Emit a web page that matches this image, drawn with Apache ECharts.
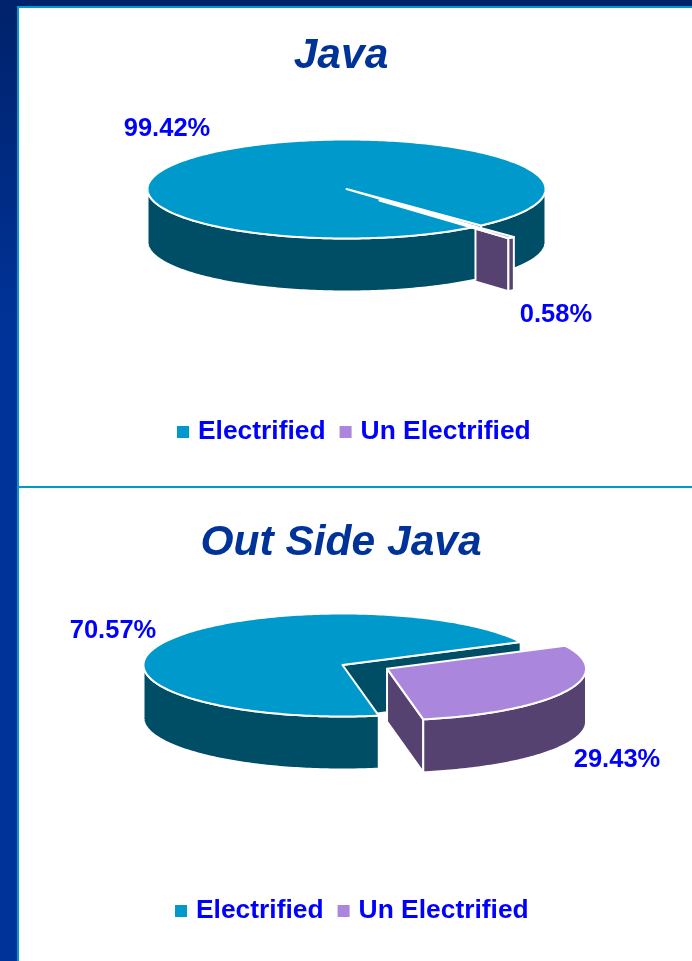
<!DOCTYPE html>
<html>
<head>
<meta charset="utf-8">
<style>html,body{margin:0;padding:0;background:#fff}#c{width:692px;height:961px}</style>
<script src="https://cdn.jsdelivr.net/npm/echarts@6/dist/echarts.min.js"></script>
</head>
<body>
<div id="c"></div>
<script>
var categories = ['Electrified', 'Un Electrified'];
var chartTitles = ['Java', 'Out Side Java'];
var javaValues = [99.42, 0.58];
var outsideValues = [70.57, 29.43];
var javaLabels = ['99.42%', '0.58%'];
var outsideLabels = ['70.57%', '29.43%'];

var FONT = '"Liberation Sans", Arial, sans-serif';
var TOP_COLORS = ['#0099CC', '#AA86DD'];
var WALL_COLORS = ['#004D66', '#554270'];

var pies = [
  { values: javaValues, labels: javaLabels, cx: 346.5, cy: 189, rx: 199, ry: 49.5, depth: 53, start: 49.6,
    explodeX: 0.25, explodeY: 0.31, labelPos: [[167, 129], [556, 315]] },
  { values: outsideValues, labels: outsideLabels, cx: 342.5, cy: 665, rx: 199, ry: 51.5, depth: 53, start: 79.5,
    explodeX: 0.25, explodeY: 0.16, labelPos: [[113, 631], [617, 760]] }
];

function rad(d) { return d * Math.PI / 180; }

function rimPoint(p, c, a, dz) {
  return [c[0] + p.rx * Math.cos(rad(a)), c[1] + p.ry * Math.sin(rad(a)) + dz];
}
function arc(p, c, a0, a1, dz) {
  var pts = [], n = Math.max(2, Math.ceil(Math.abs(a1 - a0)));
  for (var i = 0; i <= n; i++) pts.push(rimPoint(p, c, a0 + (a1 - a0) * i / n, dz));
  return pts;
}
function poly(points, fill, z2) {
  return { type: 'polygon', z2: z2, silent: true, shape: { points: points },
           style: { fill: fill, stroke: '#fff', lineWidth: 2, lineJoin: 'round' } };
}
function wall(p, c, a0, a1, fill, z2) {
  return poly(arc(p, c, a0, a1, 0).concat(arc(p, c, a1, a0, p.depth)), fill, z2);
}
function cutWall(p, c, a, fill, z2) {
  var r = rimPoint(p, c, a, 0);
  return poly([c, r, [r[0], r[1] + p.depth], [c[0], c[1] + p.depth]], fill, z2);
}

function sliceChildren(p, idx, value) {
  var total = p.values[0] + p.values[1];
  var sweep = value / total * 360;
  var s = idx === 0 ? p.start : p.start + p.values[0] / total * 360;
  var e = s + sweep;
  var mid = (s + e) / 2;
  var c = [p.cx, p.cy];
  if (idx === 1) {
    c = [p.cx + p.rx * p.explodeX * Math.cos(rad(mid)), p.cy + p.ry * p.explodeY * Math.sin(rad(mid))];
  }
  var out = [];
  var topFill = TOP_COLORS[idx], wallFill = WALL_COLORS[idx];
  // the visible (front) half of the rim lies between 0 and 180 degrees, and again from 360 to 540
  [[0, 180], [360, 540]].forEach(function (h) {
    var a0 = Math.max(s, h[0]), a1 = Math.min(e, h[1]);
    if (a1 <= a0) return;
    var z = idx === 1 ? 4 : (a1 === e ? 1 : 5);
    out.push(wall(p, c, a0, a1, wallFill, z));
  });
  out.push(cutWall(p, c, e, wallFill, idx === 1 ? 3 : 2));
  var topPts = [c].concat(arc(p, c, s, e, 0));
  out.push(poly(topPts, topFill, idx === 1 ? 7 : 6));
  out.push({ type: 'text', z2: 10, silent: true,
    style: { x: p.labelPos[idx][0], y: p.labelPos[idx][1], text: p.labels[idx], fill: '#0000FF',
             font: 'bold 25.5px ' + FONT, align: 'center', verticalAlign: 'middle' } });
  return out;
}

var series = [];
pies.forEach(function (p) {
  categories.forEach(function (name, idx) {
    series.push({
      type: 'custom', name: name, coordinateSystem: 'none', silent: true,
      itemStyle: { color: TOP_COLORS[idx] },
      data: [[p.values[idx]]],
      renderItem: function (params, api) {
        return { type: 'group', children: sliceChildren(p, idx, api.value(0)) };
      }
    });
  });
});

function legend(left, top) {
  return { left: left, top: top, orient: 'horizontal', data: categories, icon: 'rect',
    itemWidth: 12, itemHeight: 12, itemGap: 14, selectedMode: false, padding: 0,
    textStyle: { color: '#0000FF', fontFamily: FONT, fontWeight: 'bold', fontSize: 26.4, padding: [2, 0, 0, 4] } };
}
function title(text, top) {
  return { text: text, left: 341, textAlign: 'center', top: top, padding: 0,
    textStyle: { color: '#003399', fontFamily: FONT, fontWeight: 'bold', fontStyle: 'italic', fontSize: 42.5 } };
}

var chart = echarts.init(document.getElementById('c'), null, { renderer: 'canvas' });
chart.setOption({
  animation: false,
  backgroundColor: '#fff',
  title: [title(chartTitles[0], 35), title(chartTitles[1], 522)],
  legend: [legend(177, 419), legend(175, 898)],
  tooltip: { show: false },
  graphic: [
    { type: 'rect', silent: true, z: 0, shape: { x: 0, y: 0, width: 692, height: 6 }, style: { fill: '#00236B' } },
    { type: 'rect', silent: true, z: 0, shape: { x: 0, y: 0, width: 17, height: 961 },
      style: { fill: new echarts.graphic.LinearGradient(0, 0, 0, 1, [
        { offset: 0, color: '#00226B' }, { offset: 0.35, color: '#003399' }, { offset: 1, color: '#003399' }]) } },
    { type: 'rect', silent: true, z: 0, shape: { x: 17, y: 6, width: 675, height: 2 }, style: { fill: '#0099CC' } },
    { type: 'rect', silent: true, z: 0, shape: { x: 17, y: 6, width: 2, height: 955 }, style: { fill: '#0099CC' } },
    { type: 'rect', silent: true, z: 0, shape: { x: 19, y: 486, width: 673, height: 2 }, style: { fill: '#0099CC' } }
  ],
  series: series
});
</script>
</body>
</html>
